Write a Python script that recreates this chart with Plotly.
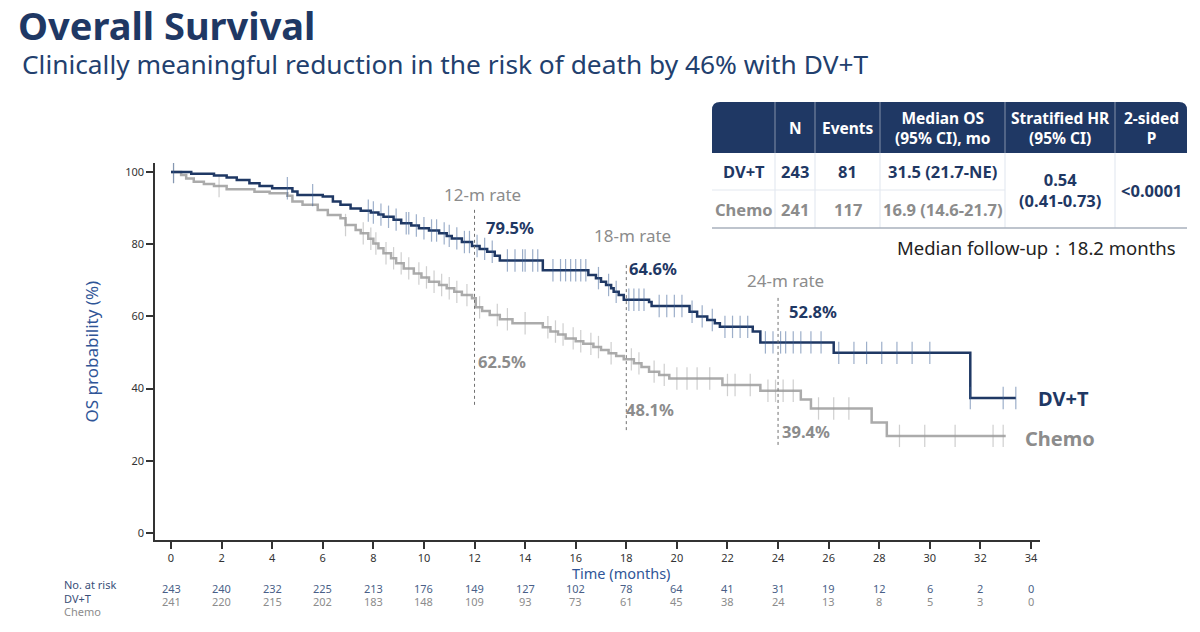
import plotly.graph_objects as go

# ---------------- data ----------------
t_dvt = [0, 0.8, 1.7, 2.2, 2.6, 3.1, 3.5, 4.0, 4.8, 5.0, 6.0, 6.4, 6.7, 7.1, 7.5, 7.9, 8.2, 8.4, 8.8,
         9.1, 9.5, 9.8, 10.2, 10.6, 10.9, 11.1, 11.5, 11.9, 12.2, 12.5, 12.8, 13.0, 14.7, 16.5, 16.8,
         17.0, 17.2, 17.4, 17.5, 17.7, 17.9, 18.9, 19.0, 20.5, 20.8, 21.2, 21.5, 21.7, 23.0, 23.3,
         26.2, 31.6]
s_dvt = [100, 99.5, 99.0, 98.5, 97.8, 96.9, 96.1, 95.5, 94.6, 93.6, 93.2, 91.8, 90.9, 89.9, 89.3,
         88.8, 88.2, 87.6, 86.8, 85.8, 85.2, 84.4, 83.8, 83.0, 82.3, 81.6, 80.6, 79.5, 78.7, 77.9,
         76.8, 75.5, 72.8, 71.5, 70.6, 69.6, 68.7, 67.8, 66.8, 65.9, 64.6, 64.0, 62.9, 61.3, 60.0,
         59.0, 58.1, 57.1, 55.8, 52.8, 49.9, 37.4]
end_dvt = 33.4
cens_dvt = [0.1, 4.6, 5.6, 7.8, 8.0, 8.3, 8.6, 8.9, 9.3, 9.4, 9.7, 10.0, 10.3, 10.5, 10.8, 11.0, 11.3,
            11.6, 11.8, 12.1, 12.4, 12.7, 13.3, 13.6, 13.9, 14.0, 14.3, 14.5, 15.1, 15.4, 15.6, 15.8,
            16.0, 16.2, 16.4, 16.9, 17.3, 17.6, 18.1, 18.3, 18.5, 18.7, 19.3, 19.6, 19.9, 20.2, 20.6,
            21.0, 21.4, 21.9, 22.2, 22.5, 22.8, 23.5, 23.8, 24.1, 24.3, 24.6, 24.9, 25.3, 25.7, 26.4,
            27.0, 27.5, 28.1, 28.7, 29.3, 30.0, 31.6, 32.9, 33.4]

t_ch = [0, 0.4, 0.6, 0.9, 1.3, 1.7, 2.2, 3.3, 3.9, 4.6, 4.8, 5.2, 5.8, 6.2, 6.7, 6.9, 7.3, 7.5, 7.8,
        8.0, 8.2, 8.4, 8.7, 8.9, 9.2, 9.6, 9.9, 10.2, 10.6, 10.9, 11.2, 11.5, 11.9, 12.05, 12.3, 12.6,
        13.0, 13.5, 14.7, 15.0, 15.3, 15.6, 16.0, 16.3, 16.7, 17.0, 17.3, 17.6, 17.9, 18.3, 18.6,
        18.9, 19.3, 19.7, 21.8, 23.3, 24.9, 25.3, 27.7, 28.3]
s_ch = [100, 99.2, 98.2, 97.3, 96.7, 96.1, 95.2, 94.5, 94.1, 93.4, 91.8, 90.9, 89.5, 88.1, 87.2,
        85.3, 83.9, 83.0, 81.5, 80.2, 78.9, 77.5, 76.1, 74.7, 73.3, 71.9, 70.8, 69.6, 68.7, 67.8,
        66.8, 65.9, 65.0, 62.5, 61.5, 60.4, 59.2, 58.1, 57.0, 55.8, 55.0, 53.9, 53.1, 52.4, 51.5,
        50.7, 49.8, 49.0, 48.1, 47.0, 46.0, 44.7, 43.8, 42.8, 41.0, 39.4, 37.0, 34.5, 30.6, 26.9]
end_ch = 33.0
cens_ch = [0.1, 1.9, 6.9, 7.6, 7.9, 8.1, 8.5, 8.8, 9.1, 9.4, 9.8, 10.1, 10.4, 10.7, 11.0, 11.3, 11.7,
           12.2, 12.9, 13.3, 14.0, 14.9, 15.2, 15.5, 15.9, 16.2, 16.6, 16.9, 17.4, 18.2, 18.5, 19.1,
           19.5, 20.0, 20.4, 20.8, 21.3, 22.0, 22.3, 22.9, 23.6, 23.9, 24.2, 24.6, 25.6, 26.2, 26.8,
           28.8, 29.8, 31.0, 32.5, 32.9]

x_ticks = list(range(0, 35, 2))
y_ticks = [0, 20, 40, 60, 80, 100]
risk_dvt = [243, 240, 232, 225, 213, 176, 149, 127, 102, 78, 64, 41, 31, 19, 12, 6, 2, 0]
risk_ch = [241, 220, 215, 202, 183, 148, 109, 93, 73, 61, 45, 38, 24, 13, 8, 5, 3, 0]

landmarks = [12, 18, 24]
landmark_labels = ["12-m rate", "18-m rate", "24-m rate"]
rate_dvt = [79.5, 64.6, 52.8]
rate_ch = [62.5, 48.1, 39.4]

table_header = ["", "N", "Events", "Median OS<br>(95% CI), mo", "Stratified HR<br>(95% CI)", "2-sided<br>P"]
table_dvt = ["DV+T", "243", "81", "31.5 (21.7-NE)"]
table_ch = ["Chemo", "241", "117", "16.9 (14.6-21.7)"]
table_hr = "0.54<br>(0.41-0.73)"
table_p = "<0.0001"

# ---------------- styling ----------------
NAVY = "#1f3864"
GRAY_LINE = "#ababab"
GRAY_TXT = "#8c8c8c"
FONT = "Noto Sans"

L, R, T, B = 155, 1040, 163, 540


def px(x):
    return (x - L) / (R - L)


def py(y):
    return (B - y) / (B - T)


def surv_at(times, surv, t):
    v = surv[0]
    for ti, si in zip(times, surv):
        if ti <= t:
            v = si
    return v


fig = go.Figure()

# curves
fig.add_trace(go.Scatter(x=t_ch + [end_ch], y=s_ch + [s_ch[-1]], mode="lines", line_shape="hv",
                         line=dict(color=GRAY_LINE, width=2.5), showlegend=False, hoverinfo="skip"))
fig.add_trace(go.Scatter(x=cens_ch, y=[surv_at(t_ch, s_ch, c) for c in cens_ch], mode="markers",
                         marker=dict(symbol="line-ns", size=16,
                                     line=dict(color="rgba(160,160,160,0.5)", width=1.2)),
                         showlegend=False, hoverinfo="skip"))
fig.add_trace(go.Scatter(x=t_dvt + [end_dvt], y=s_dvt + [s_dvt[-1]], mode="lines", line_shape="hv",
                         line=dict(color=NAVY, width=2.5), showlegend=False, hoverinfo="skip"))
fig.add_trace(go.Scatter(x=cens_dvt, y=[surv_at(t_dvt, s_dvt, c) for c in cens_dvt], mode="markers",
                         marker=dict(symbol="line-ns", size=16,
                                     line=dict(color="rgba(60,95,150,0.5)", width=1.2)),
                         showlegend=False, hoverinfo="skip"))

shapes = []
anns = []

# landmark dotted lines
lm_top = [90, 75, 65.6]
lm_bot = [35.5, 28.5, 24.4]
for i, t in enumerate(landmarks):
    shapes.append(dict(type="line", xref="x", yref="y", x0=t, x1=t, y0=lm_bot[i], y1=lm_top[i],
                       line=dict(color="#707070", width=1, dash="dot")))

# landmark labels (pixel positions)
lab_pos = [(482, 194), (632, 235), (785, 280)]
dvt_pos = [(510, 227), (653, 268), (813, 311)]
ch_pos = [(502, 361), (650, 409), (806, 432)]


def ann(text, x, y, size, color, bold=False, xanchor="center", yanchor="middle", family=FONT):
    if bold:
        text = "<b>" + text + "</b>"
    anns.append(dict(text=text, x=px(x), y=py(y), xref="paper", yref="paper", showarrow=False,
                     xanchor=xanchor, yanchor=yanchor, align="center",
                     font=dict(size=size, color=color, family=family)))


for i in range(3):
    ann(landmark_labels[i], *lab_pos[i], 17, GRAY_TXT)
    ann(f"{rate_dvt[i]:.1f}%", *dvt_pos[i], 16.5, NAVY, bold=True)
    ann(f"{rate_ch[i]:.1f}%", *ch_pos[i], 16.5, GRAY_TXT, bold=True)

ann("DV+T", 1063, 398, 20, NAVY, bold=True)
ann("Chemo", 1060, 438, 20, GRAY_TXT, bold=True)

# titles
ann("Overall Survival", 16, 25, 38, NAVY, bold=True, xanchor="left")
ann("Clinically meaningful reduction in the risk of death by 46% with DV+T", 20, 64, 26.3, "#22406e",
    xanchor="left")

# axis titles
anns.append(dict(text="OS probability (%)", x=px(77), y=py(352), xref="paper", yref="paper",
                 showarrow=False, textangle=-90, font=dict(size=17, color="#2f5597", family=FONT)))
ann("Time (months)", 621, 573, 14.5, "#2f5597")

# number at risk
ann("No. at risk", 62, 584, 11, "#3a4f78", xanchor="left")
ann("DV+T", 62, 598, 11, "#3a4f78", xanchor="left")
ann("Chemo", 62, 611, 11, GRAY_TXT, xanchor="left")
for i, t in enumerate(x_ticks):
    anns.append(dict(text=str(risk_dvt[i]), x=t, y=py(598), xref="x", yref="paper", showarrow=False,
                     font=dict(size=11, color="#4a5f88", family=FONT)))
    anns.append(dict(text=str(risk_ch[i]), x=t, y=py(611), xref="x", yref="paper",
                     showarrow=False, font=dict(size=11, color=GRAY_TXT, family=FONT)))

# ---------------- table ----------------
col_edges = [712, 775, 815, 880, 1005, 1115, 1187]
hdr_top, hdr_bot, row_mid, tbl_bot = 102, 153, 190, 228


def hline(x0, x1, y, color, w=1):
    shapes.append(dict(type="line", xref="paper", yref="paper", x0=px(x0), x1=px(x1), y0=py(y), y1=py(y),
                       line=dict(color=color, width=w)))


def vline(x, y0, y1, color, w=1):
    shapes.append(dict(type="line", xref="paper", yref="paper", x0=px(x), x1=px(x), y0=py(y0), y1=py(y1),
                       line=dict(color=color, width=w)))


# header with rounded top corners
rr = 8
x0, x1 = col_edges[0], col_edges[-1]
path = (f"M {px(x0)},{py(hdr_bot)} L {px(x0)},{py(hdr_top + rr)} "
        f"Q {px(x0)},{py(hdr_top)} {px(x0 + rr)},{py(hdr_top)} "
        f"L {px(x1 - rr)},{py(hdr_top)} Q {px(x1)},{py(hdr_top)} {px(x1)},{py(hdr_top + rr)} "
        f"L {px(x1)},{py(hdr_bot)} Z")
shapes.append(dict(type="path", xref="paper", yref="paper", path=path, fillcolor=NAVY,
                   line=dict(width=0)))
for x in col_edges[1:-1]:
    vline(x, hdr_top, hdr_bot, "rgba(255,255,255,0.45)")
    vline(x, hdr_bot, tbl_bot, "#dfe5ee")
hline(col_edges[0], col_edges[4], row_mid, "#e3e8ef")
hline(col_edges[0], col_edges[-1], tbl_bot, "#a9b1bd", 1.5)

centers = [(col_edges[i] + col_edges[i + 1]) / 2 for i in range(6)]
for i, h in enumerate(table_header):
    if h:
        ann(h, centers[i], 128, 15.5, "white", bold=True)
for i in range(4):
    ann(table_dvt[i], centers[i], 171, 16.5, NAVY, bold=True)
    ann(table_ch[i], centers[i], 209, 16.5, GRAY_TXT, bold=True)
ann(table_hr, centers[4], 190, 16.5, NAVY, bold=True)
ann(table_p, centers[5], 190, 16.5, NAVY, bold=True)
ann("Median follow-up：18.2 months", 1178, 247, 18.5, "#222222", xanchor="right")

# ---------------- layout ----------------
kx = 860 / 34
xmin = -(171 - L) / kx
xmax = xmin + (R - L) / kx
ky = (533 - 172) / 100
ymin = -(B - 533) / ky
ymax = ymin + (B - T) / ky

axis_common = dict(showgrid=False, zeroline=False, showline=True, linecolor="#333333", linewidth=1.5,
                   ticks="outside", ticklen=7, tickwidth=1.5, tickcolor="#333333",
                   tickfont=dict(size=11, color="#333333", family=FONT))

fig.update_layout(
    width=1200, height=632,
    margin=dict(l=L, r=1200 - R, t=T, b=632 - B),
    paper_bgcolor="white", plot_bgcolor="white",
    xaxis=dict(range=[xmin, xmax], tickvals=x_ticks, **axis_common),
    yaxis=dict(range=[ymin, ymax], tickvals=y_ticks, **axis_common),
    shapes=shapes, annotations=anns, showlegend=False,
)

fig.write_html("out.html")
